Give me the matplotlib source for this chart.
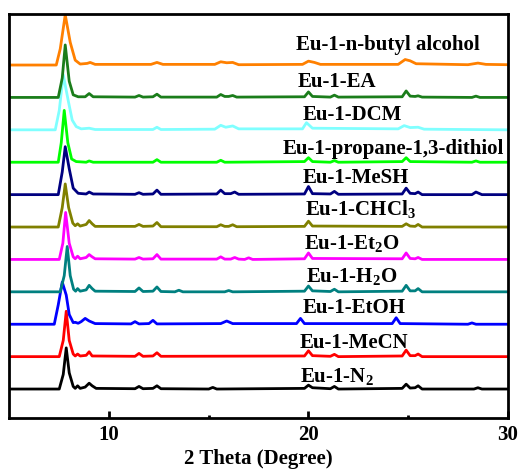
import matplotlib
matplotlib.use('Agg')
import matplotlib.pyplot as plt

plt.rcParams['font.family'] = ['Liberation Serif', 'DejaVu Serif']
plt.rcParams['font.weight'] = 'bold'
plt.rcParams['mathtext.fontset'] = 'custom'
plt.rcParams['mathtext.rm'] = 'Liberation Serif:bold'
plt.rcParams['mathtext.it'] = 'Liberation Serif:bold'
plt.rcParams['mathtext.bf'] = 'Liberation Serif:bold'

# amostras, de baixo para cima
LABELS = ['Eu-1-N$_2$', 'Eu-1-MeCN', 'Eu-1-EtOH', 'Eu-1-H$_2$O', 'Eu-1-Et$_2$O',
          'Eu-1-CHCl$_3$', 'Eu-1-MeSH', 'Eu-1-propane-1,3-dithiol', 'Eu-1-DCM',
          'Eu-1-EA', 'Eu-1-n-butyl alcohol']
COLORS = ['#000000', '#ff0000', '#0000ff', '#008080', '#ff00ff', '#808000',
          '#000080', '#00ff00', '#80ffff', '#1b7d1b', '#ff8000']

# padroes: 2theta, intensidade (unidades de deslocamento)
N2_X = [5.0, 7.5, 7.7, 7.85, 8.0, 8.2, 8.3, 8.42, 8.55, 8.8, 9.0, 9.15, 9.35, 11.3, 11.5, 11.7, 12.2, 12.4, 12.6, 15.0, 15.2, 15.4, 19.8, 20.0, 20.2, 21.1, 21.3, 21.5, 24.7, 24.9, 25.1, 25.35, 25.5, 25.7, 28.3, 28.5, 28.7, 30.0]
N2_Y = [0.0, 0.0, 0.45, 1.27, 0.5, 0.08, 0.02, 0.1, 0.02, 0.06, 0.18, 0.1, 0.02, 0.01, 0.08, 0.01, 0.02, 0.1, 0.01, 0.0, 0.05, 0.0, 0.02, 0.12, 0.04, 0.01, 0.08, 0.0, 0.02, 0.15, 0.03, 0.04, 0.1, 0.0, 0.0, 0.04, 0.0, 0.0]

MECN_X = [5.0, 7.5, 7.7, 7.85, 8.0, 8.2, 8.3, 8.42, 8.55, 8.85, 9.0, 9.15, 11.3, 11.5, 11.7, 12.2, 12.4, 12.6, 19.8, 20.0, 20.2, 21.1, 21.3, 21.5, 24.7, 24.9, 25.1, 25.35, 25.5, 25.7, 30.0]
MECN_Y = [0.0, 0.0, 0.5, 1.4, 0.5, 0.08, 0.02, 0.08, 0.02, 0.04, 0.15, 0.02, 0.01, 0.1, 0.01, 0.02, 0.12, 0.01, 0.02, 0.18, 0.03, 0.01, 0.07, 0.0, 0.02, 0.2, 0.03, 0.03, 0.08, 0.0, 0.0]

ETOH_X = [5.0, 7.25, 7.45, 7.65, 7.85, 8.0, 8.2, 8.3, 8.45, 8.6, 8.8, 9.0, 9.3, 11.1, 11.3, 11.5, 12.0, 12.2, 12.4, 15.6, 15.9, 16.2, 19.4, 19.6, 19.8, 24.2, 24.4, 24.6, 28.0, 28.2, 28.4, 30.0]
ETOH_Y = [0.0, 0.0, 0.6, 1.3, 0.9, 0.3, 0.05, 0.06, 0.03, 0.08, 0.18, 0.1, 0.02, 0.01, 0.08, 0.01, 0.02, 0.12, 0.01, 0.02, 0.1, 0.02, 0.02, 0.18, 0.02, 0.02, 0.2, 0.02, 0.0, 0.04, 0.0, 0.0]

H2O_X = [5.0, 7.55, 7.75, 7.9, 8.05, 8.22, 8.32, 8.42, 8.55, 8.85, 9.0, 9.15, 9.3, 11.3, 11.5, 11.7, 12.2, 12.4, 12.6, 13.3, 13.5, 13.7, 15.8, 16.0, 16.2, 19.8, 20.0, 20.2, 21.1, 21.3, 21.5, 24.7, 24.9, 25.1, 25.35, 25.5, 25.7, 30.0]
H2O_Y = [0.0, 0.0, 0.5, 1.4, 0.5, 0.08, 0.02, 0.1, 0.02, 0.06, 0.2, 0.1, 0.02, 0.01, 0.12, 0.01, 0.02, 0.15, 0.01, 0.0, 0.05, 0.0, 0.0, 0.04, 0.0, 0.02, 0.18, 0.03, 0.01, 0.08, 0.0, 0.02, 0.2, 0.03, 0.03, 0.1, 0.0, 0.0]

ET2O_X = [5.0, 7.5, 7.68, 7.82, 8.0, 8.2, 8.3, 8.42, 8.55, 8.85, 9.0, 9.15, 9.3, 11.3, 11.5, 11.7, 12.2, 12.4, 12.6, 15.4, 15.6, 15.8, 16.1, 16.3, 16.5, 16.8, 17.0, 17.2, 19.8, 20.0, 20.2, 24.7, 24.9, 25.1, 25.35, 25.5, 25.7, 30.0]
ET2O_Y = [0.0, 0.0, 0.5, 1.45, 0.5, 0.08, 0.02, 0.1, 0.02, 0.06, 0.15, 0.08, 0.02, 0.01, 0.06, 0.01, 0.02, 0.15, 0.01, 0.01, 0.08, 0.01, 0.01, 0.06, 0.01, 0.0, 0.05, 0.0, 0.02, 0.2, 0.03, 0.02, 0.2, 0.03, 0.02, 0.06, 0.0, 0.0]

CHCL3_X = [5.0, 7.45, 7.65, 7.8, 7.97, 8.18, 8.3, 8.42, 8.55, 8.85, 9.0, 9.15, 9.3, 11.3, 11.5, 11.7, 12.2, 12.4, 12.6, 15.4, 15.6, 15.8, 16.0, 16.2, 16.4, 19.8, 20.0, 20.2, 24.7, 24.9, 25.1, 25.35, 25.5, 25.7, 30.0]
CHCL3_Y = [0.0, 0.0, 0.6, 1.33, 0.6, 0.12, 0.04, 0.1, 0.03, 0.08, 0.2, 0.1, 0.02, 0.02, 0.08, 0.02, 0.03, 0.14, 0.01, 0.01, 0.07, 0.02, 0.02, 0.07, 0.01, 0.02, 0.18, 0.03, 0.02, 0.1, 0.03, 0.02, 0.08, 0.0, 0.0]

MESH_X = [5.0, 7.45, 7.65, 7.8, 8.0, 8.2, 8.45, 8.85, 9.0, 9.2, 11.3, 11.5, 11.7, 12.2, 12.4, 12.6, 15.4, 15.6, 15.8, 16.1, 16.3, 16.5, 19.8, 20.0, 20.2, 21.1, 21.3, 21.5, 24.7, 24.9, 25.1, 25.35, 25.5, 25.7, 28.2, 28.4, 28.7, 30.0]
MESH_Y = [0.0, 0.0, 0.7, 1.48, 0.8, 0.2, 0.04, 0.02, 0.08, 0.02, 0.01, 0.06, 0.01, 0.02, 0.14, 0.01, 0.02, 0.14, 0.03, 0.03, 0.08, 0.01, 0.02, 0.25, 0.03, 0.02, 0.1, 0.01, 0.02, 0.2, 0.04, 0.03, 0.08, 0.0, 0.0, 0.08, 0.0, 0.0]

PROP_X = [5.0, 7.45, 7.6, 7.75, 7.93, 8.12, 8.35, 8.85, 9.0, 9.2, 12.2, 12.4, 12.6, 15.4, 15.6, 15.8, 19.8, 20.0, 20.2, 21.1, 21.3, 21.5, 24.7, 24.9, 25.1, 28.2, 28.4, 28.6, 30.0]
PROP_Y = [0.0, 0.0, 0.6, 1.6, 0.6, 0.1, 0.02, 0.0, 0.04, 0.0, 0.0, 0.08, 0.0, 0.0, 0.06, 0.0, 0.02, 0.14, 0.02, 0.0, 0.05, 0.0, 0.02, 0.14, 0.02, 0.0, 0.04, 0.0, 0.0]

DCM_X = [5.0, 7.3, 7.5, 7.7, 7.95, 8.15, 8.35, 8.6, 9.0, 9.3, 12.2, 12.4, 12.6, 15.3, 15.6, 15.85, 16.2, 16.5, 19.7, 19.9, 20.2, 24.5, 24.8, 25.1, 25.5, 25.8, 30.0]
DCM_Y = [0.0, 0.0, 0.6, 1.7, 0.9, 0.3, 0.1, 0.03, 0.05, 0.01, 0.01, 0.08, 0.01, 0.02, 0.14, 0.08, 0.12, 0.03, 0.03, 0.22, 0.05, 0.03, 0.13, 0.07, 0.08, 0.02, 0.0]

EA_X = [5.0, 7.45, 7.65, 7.8, 8.0, 8.2, 8.45, 8.8, 9.0, 9.2, 11.3, 11.5, 11.7, 12.2, 12.4, 12.6, 15.4, 15.6, 15.8, 16.0, 16.2, 16.4, 19.8, 20.0, 20.2, 21.1, 21.3, 21.5, 24.7, 24.9, 25.1, 25.35, 25.5, 25.7, 28.2, 28.4, 28.6, 30.0]
EA_Y = [0.0, 0.0, 0.6, 1.62, 0.5, 0.08, 0.02, 0.02, 0.12, 0.02, 0.01, 0.06, 0.01, 0.02, 0.1, 0.01, 0.01, 0.09, 0.03, 0.03, 0.06, 0.01, 0.02, 0.17, 0.03, 0.01, 0.07, 0.01, 0.02, 0.2, 0.04, 0.03, 0.05, 0.01, 0.0, 0.04, 0.0, 0.0]

BUT_X = [5.0, 7.35, 7.55, 7.8, 8.05, 8.3, 8.55, 8.9, 9.05, 9.3, 12.1, 12.4, 12.7, 15.3, 15.6, 15.9, 16.2, 16.5, 19.7, 20.0, 20.3, 20.6, 24.5, 24.85, 25.1, 25.4, 28.0, 28.5, 28.9, 30.0]
BUT_Y = [0.0, 0.0, 0.5, 1.55, 0.7, 0.15, 0.03, 0.05, 0.08, 0.02, 0.02, 0.08, 0.02, 0.02, 0.1, 0.07, 0.08, 0.01, 0.02, 0.12, 0.08, 0.02, 0.02, 0.17, 0.13, 0.04, 0.01, 0.06, 0.02, 0.01]

SERIES_X = [N2_X, MECN_X, ETOH_X, H2O_X, ET2O_X, CHCL3_X, MESH_X, PROP_X, DCM_X, EA_X, BUT_X]
SERIES_Y = [N2_Y, MECN_Y, ETOH_Y, H2O_Y, ET2O_Y, CHCL3_Y, MESH_Y, PROP_Y, DCM_Y, EA_Y, BUT_Y]

# posicao dos rotulos (2theta do inicio, altura acima da linha base)
LABEL_X = [19.6, 19.55, 19.7, 19.9, 19.8, 19.85, 19.7, 18.7, 19.7, 19.45, 19.35]
LABEL_DY = [0.22, 0.28, 0.34, 0.31, 0.31, 0.37, 0.37, 0.25, 0.31, 0.31, 0.46]

fig = plt.figure(figsize=(5.23, 4.72), dpi=100)
ax = fig.add_axes([0.018, 0.114, 0.953, 0.856])

for i in range(len(LABELS)):
    ax.plot(SERIES_X[i], [v + i for v in SERIES_Y[i]], color=COLORS[i], linewidth=2.0)
    ax.text(LABEL_X[i], i + LABEL_DY[i], LABELS[i], fontsize=15, fontweight='bold',
            ha='left', va='baseline')

ax.set_xlim(5, 30)
ax.set_ylim(-0.9, 11.57)
ax.set_yticks([])
ax.set_xticks([10, 20, 30])
ax.set_xticks([15, 25], minor=True)
ax.tick_params(axis='x', which='major', direction='in', length=5, width=2, labelsize=15, pad=5)
ax.tick_params(axis='x', which='minor', direction='in', length=2.5, width=2)
for lbl in ax.get_xticklabels():
    lbl.set_fontweight('bold')
for s in ax.spines.values():
    s.set_linewidth(2)
ax.set_xlabel('2 Theta (Degree)', fontsize=15, fontweight='bold', labelpad=3)

plt.savefig('out.png', dpi=100)
